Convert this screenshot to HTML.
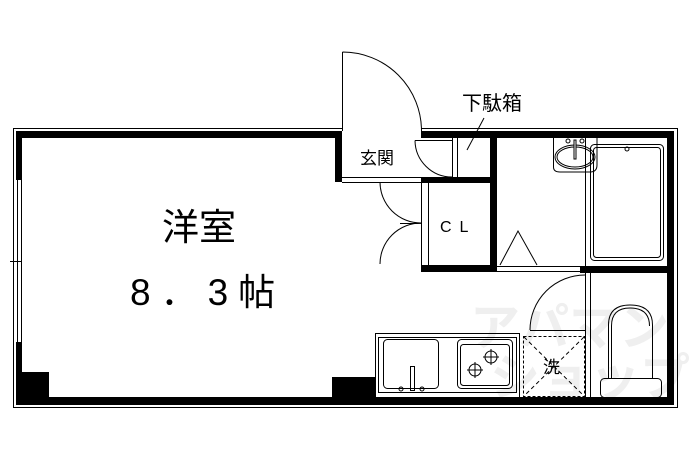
<!DOCTYPE html>
<html><head><meta charset="utf-8"><style>html,body{margin:0;padding:0;background:#fff}svg{display:block}</style></head>
<body>
<svg width="690" height="460" viewBox="0 0 690 460" xmlns="http://www.w3.org/2000/svg">
<g fill="#efefef" font-family="'Liberation Sans','Noto Sans CJK JP',sans-serif" font-weight="bold">
<text x="470" y="345" font-size="50">アパマン</text>
<text x="490" y="395" font-size="50">ショップ</text>
</g>
<g fill="none" stroke="#000" stroke-width="1">
<path d="M342.5,128.5 H13.5 V407.5 H677.5 V128.5 H421.5"/>
</g>
<g fill="#000">
<rect x="16" y="131" width="326" height="7"/>
<rect x="421" y="131" width="253" height="7"/>
<rect x="16" y="131" width="6" height="49"/>
<rect x="16" y="342" width="6" height="63"/>
<rect x="16" y="397" width="658" height="8"/>
<rect x="667" y="131" width="7" height="274"/>
<rect x="22" y="372" width="27" height="25"/>
<rect x="335" y="131" width="7" height="51"/>
<rect x="332" y="377" width="43" height="20"/>
<rect x="421" y="177" width="76" height="6"/>
<rect x="490" y="138" width="7" height="133"/>
<rect x="421" y="265" width="76" height="7"/>
<rect x="580" y="266" width="87" height="7"/>
</g>
<g fill="none" stroke="#000" stroke-width="1">
<path d="M17.5,180 V342 M21.5,180 V342 M10,261.5 H22"/>
<path d="M342.5,52 V131 M342.5,52 A79,79 0 0 1 421.5,131"/>
<path d="M342,177.5 H421 M342,182.5 H421"/>
<path d="M452.5,138 V177 M457.5,138 V177"/>
<path d="M415,140.5 H452 M415,140.5 A37,37 0 0 0 452,177"/>
<path d="M484,118 L467,150"/>
<path d="M421.5,182 V270 M428.5,182 V270"/>
<path d="M380,182 A41,41 0 0 0 421,223 M400,223.5 H421 M421,223 A41,41 0 0 0 380,264"/>
<path d="M497,266.5 H580 M497,271.5 H580"/>
<path d="M500,265 L518,231 L537,265"/>
<path d="M585.5,138 V266 M590.5,273 V397 M585.5,273 V397"/>
<rect x="590.5" y="144.5" width="73" height="116" rx="4"/>
<rect x="593.5" y="147.5" width="67" height="110" rx="3"/>
<circle cx="627" cy="149" r="2"/>
<path d="M553.5,138 V167 Q553.5,172 560,172 H590 Q597,172 597,165 V138"/>
<ellipse cx="575" cy="157" rx="20" ry="12"/>
<ellipse cx="575" cy="157" rx="18" ry="10"/>
<circle cx="568" cy="141" r="2"/><circle cx="582" cy="141" r="2"/>
<rect x="574" y="140" width="2" height="19" fill="#fff"/>
<path d="M530,330.5 H585 M530,330 A55,55 0 0 1 585,275"/>
<rect x="523.5" y="336.5" width="61" height="60" stroke-dasharray="3,2"/>
<path d="M524,337 L584,396 M584,337 L524,396" stroke-dasharray="4,3"/>
<rect x="375.5" y="333.5" width="144" height="64"/>
<rect x="378.5" y="337.5" width="138" height="55"/>
<rect x="383.5" y="339.5" width="55" height="49" rx="4"/>
<rect x="410.5" y="366.5" width="4" height="24"/>
<circle cx="401" cy="389" r="2"/><circle cx="422" cy="389" r="2"/>
<rect x="457.5" y="339.5" width="55" height="49" rx="4"/>
<rect x="460.5" y="344.5" width="49" height="41" rx="3"/>
<circle cx="491" cy="357" r="6"/><circle cx="475" cy="370" r="6"/>
<path d="M491,349 V365 M483,357 H499 M475,362 V378 M467,370 H483"/>
<path d="M608.5,378 V325 Q608.5,305 630,305 Q652.5,305 652.5,325 V378"/>
<path d="M611.5,378 V326 Q611.5,308 630,308 Q649.5,308 649.5,326"/>
<rect x="600.5" y="378.5" width="61" height="19" rx="4"/>
</g>
<g fill="#000" font-family="'Liberation Sans','Noto Sans CJK JP',sans-serif">
<text x="162" y="240" font-size="37">洋室</text>
<text x="130" y="305" font-size="37" letter-spacing="10">8．3帖</text>
<text x="360" y="164" font-size="17">玄関</text>
<text x="462" y="110" font-size="20">下駄箱</text>
<text x="440" y="232" font-size="16" letter-spacing="8">CL</text>
<text x="543" y="373" font-size="17">洗</text>
</g>
</svg>
</body></html>
